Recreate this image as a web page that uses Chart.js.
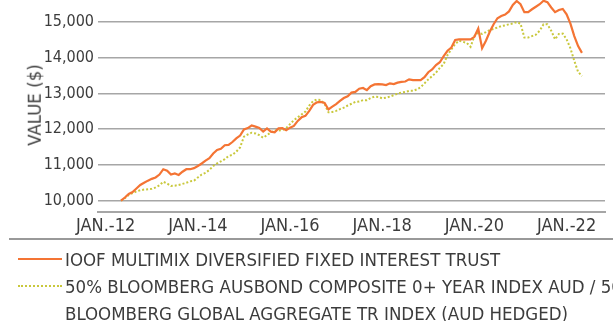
<!DOCTYPE html>
<html>
<head>
<meta charset="utf-8">
<script src="https://cdn.jsdelivr.net/npm/chart.js@4.4.1/dist/chart.umd.min.js"></script>
<style>
  html, body { margin: 0; padding: 0; background: #fff; }
  body { width: 613px; height: 321px; position: relative; overflow: hidden;
         font-family: 'DejaVu Sans Condensed', 'Liberation Sans Narrow', sans-serif; color: #3c3c3c; }
  #chart { position: absolute; left: 0; top: -14px; }
  #yTitle { position: absolute; left: 35px; top: 105px; transform: translate(-50%, -50%) rotate(-90deg);
            font-size: 18.5px; white-space: nowrap; line-height: 1; }
  #rule { position: absolute; left: 9px; right: 0; top: 237.5px; height: 0; border-top: 2px solid #999; }
  #legend { position: absolute; left: 0; top: 245.5px; font-size: 18.5px; line-height: 27px; white-space: nowrap; }
  .row { position: relative; padding-left: 65px; }
  .swatch { position: absolute; left: 18px; top: 12.5px; width: 44px; height: 0; }
  .solid  { border-top: 2px solid #f47434; }
  .dotted { border-top: 2px dotted #c9c83c; }
</style>
</head>
<body>
<canvas id="chart" width="613" height="256"></canvas>
<div id="yTitle">VALUE ($)</div>
<div id="rule"></div>
<div id="legend">
  <div class="row"><span class="swatch solid"></span>IOOF MULTIMIX DIVERSIFIED FIXED INTEREST TRUST</div>
  <div class="row"><span class="swatch dotted"></span>50% BLOOMBERG AUSBOND COMPOSITE 0+ YEAR INDEX AUD / 50%<br>BLOOMBERG GLOBAL AGGREGATE TR INDEX (AUD HEDGED)</div>
</div>
<script>
// months counted from Jan 2012; series start at May 2012, one value per month
const startMonth = 4;

const xTickMonths = [0, 24, 48, 72, 96, 120];
const xTickLabels = ['JAN.-12', 'JAN.-14', 'JAN.-16', 'JAN.-18', 'JAN.-20', 'JAN.-22'];
const yTicks      = [10000, 11000, 12000, 13000, 14000, 15000];

const trustValues = [
  10000, 10090, 10190, 10240, 10340, 10440, 10500, 10560, 10610, 10650, 10730, 10880,
  10840, 10730, 10760, 10720, 10810, 10880, 10880, 10910, 10970, 11040, 11120, 11190,
  11320, 11420, 11450, 11550, 11560, 11640, 11740, 11820, 11990, 12030, 12100, 12070,
  12030, 11930, 12020, 11930, 11910, 12020, 12030, 11970, 12040, 12090, 12230, 12330,
  12370, 12510, 12680, 12750, 12760, 12730, 12550, 12630, 12700, 12790, 12870, 12920,
  13020, 13040, 13130, 13150, 13090, 13200, 13250, 13260, 13250, 13230, 13280, 13260,
  13300, 13320, 13330, 13390, 13370, 13370, 13370, 13450, 13590, 13670, 13790, 13870,
  14040, 14190, 14280, 14490, 14510, 14510, 14510, 14510, 14580, 14810, 14260, 14470,
  14720, 14930, 15100, 15160, 15200, 15290, 15470, 15580, 15490, 15270, 15270, 15350,
  15420, 15490, 15590, 15550, 15400, 15270, 15330, 15360, 15210, 14950, 14600, 14320,
  14130
];

const benchValues = [
  10000, 10070, 10160, 10210, 10260, 10290, 10310, 10320, 10330, 10370, 10430, 10530,
  10480, 10410, 10420, 10440, 10470, 10500, 10540, 10560, 10650, 10730, 10780, 10860,
  10970, 11040, 11100, 11160, 11250, 11280, 11370, 11490, 11790, 11850, 11900, 11880,
  11830, 11760, 11830, 11910, 11960, 11960, 11970, 12030, 12140, 12250, 12330, 12410,
  12490, 12660, 12780, 12830, 12810, 12700, 12470, 12480, 12510, 12560, 12600, 12660,
  12710, 12760, 12770, 12810, 12810, 12870, 12910, 12900, 12860, 12880, 12910, 12950,
  12990, 13020, 13040, 13070, 13070, 13110, 13170, 13280, 13390, 13480, 13580, 13710,
  13820, 14070, 14230, 14380, 14470, 14440, 14410, 14300, 14600, 14690, 14660, 14710,
  14770, 14800, 14840, 14880, 14900, 14930, 14950, 14990, 14950, 14560, 14560, 14600,
  14640, 14750, 14930, 14930, 14750, 14510, 14660, 14670, 14510, 14260, 13910, 13600,
  13480
];

const toPoints = vals => vals.map((v, i) => ({ x: startMonth + i, y: v }));

const fontStack = "'DejaVu Sans Condensed', 'Liberation Sans Narrow', sans-serif";
const textColor = '#3c3c3c';

new Chart(document.getElementById('chart'), {
  type: 'line',
  data: {
    datasets: [
      {
        label: 'IOOF MULTIMIX DIVERSIFIED FIXED INTEREST TRUST',
        data: toPoints(trustValues),
        borderColor: '#f47434',
        borderWidth: 2.2,
        pointRadius: 0,
        tension: 0,
        order: 1,
      },
      {
        label: '50% BLOOMBERG AUSBOND COMPOSITE 0+ YEAR INDEX AUD / 50% BLOOMBERG GLOBAL AGGREGATE TR INDEX (AUD HEDGED)',
        data: toPoints(benchValues),
        borderColor: '#c9c83c',
        borderWidth: 2,
        borderDash: [2, 2],
        pointRadius: 0,
        tension: 0,
        order: 2,
      },
    ],
  },
  options: {
    responsive: false,
    animation: false,
    clip: false,
    layout: { padding: { right: 8 } },
    plugins: { legend: { display: false }, tooltip: { enabled: false } },
    scales: {
      x: {
        type: 'linear',
        min: -2,
        max: 130,
        grid: { display: false, drawTicks: false },
        border: { display: true, color: '#a6a6a6', width: 2 },
        afterBuildTicks: s => { s.ticks = xTickMonths.map(v => ({ value: v })); },
        afterFit: s => { s.height = 30; s.paddingLeft = 0; s.paddingRight = 0; },
        ticks: {
          padding: 4,
          maxRotation: 0,
          color: textColor,
          font: { family: fontStack, size: 18 },
          callback: v => xTickLabels[xTickMonths.indexOf(v)],
        },
      },
      y: {
        min: 9684,
        max: 16000,
        grid: { color: '#a6a6a6', lineWidth: 1.6, drawTicks: false },
        border: { display: false },
        afterBuildTicks: s => { s.ticks = yTicks.map(v => ({ value: v })); },
        afterFit: s => { s.width = 98; s.paddingTop = 0; s.paddingBottom = 0; },
        ticks: {
          padding: 4,
          color: textColor,
          font: { family: fontStack, size: 16 },
          callback: v => v.toLocaleString('en-US'),
        },
      },
    },
  },
});
</script>
</body>
</html>
